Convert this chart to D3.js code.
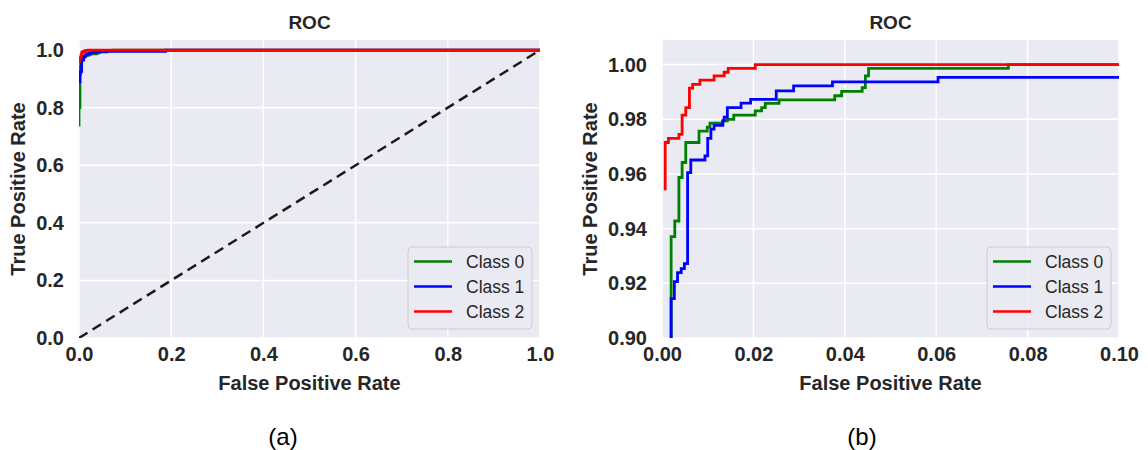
<!DOCTYPE html>
<html><head><meta charset="utf-8">
<script src="https://cdn.jsdelivr.net/npm/d3@7"></script>
<style>
body{margin:0;background:#fff}
svg{display:block}
text{font-family:"Liberation Sans",Arial,sans-serif}
</style></head>
<body><svg id="c" width="1148" height="450"></svg>
<script>
// ---- data ----
const classNames = ["Class 0", "Class 1", "Class 2"];
const classColors = ["green", "blue", "red"];

const fpr0 = [0.0, 0.0, 0.0020, 0.0028, 0.0037, 0.0044, 0.0052, 0.0081, 0.0099, 0.0105, 0.0133, 0.0143, 0.0157, 0.0204, 0.0218, 0.0226, 0.0256, 0.0378, 0.0393, 0.0438, 0.0445, 0.0452, 0.0758, 1.0];
const tpr0 = [0.735, 0.80, 0.9371, 0.9428, 0.9587, 0.9642, 0.9715, 0.9757, 0.9771, 0.9786, 0.9794, 0.9800, 0.9815, 0.9831, 0.9843, 0.9858, 0.9871, 0.9886, 0.9902, 0.9916, 0.9959, 0.9986, 1.0, 1.0];

const fpr1 = [0.0, 0.0020, 0.0027, 0.0034, 0.0042, 0.0049, 0.0056, 0.0063, 0.0094, 0.0100, 0.0107, 0.0114, 0.0133, 0.0136, 0.0143, 0.0173, 0.0194, 0.0250, 0.0288, 0.0373, 0.0604, 0.188, 1.0];
const tpr1 = [0.890, 0.9144, 0.9206, 0.9239, 0.9254, 0.9272, 0.9605, 0.9651, 0.9666, 0.9730, 0.9764, 0.9778, 0.9794, 0.9808, 0.9843, 0.9859, 0.9873, 0.9904, 0.9922, 0.9937, 0.9953, 1.0, 1.0];

const fpr2 = [0.0007, 0.0007, 0.0014, 0.0037, 0.0044, 0.0052, 0.0060, 0.0067, 0.0083, 0.0114, 0.0136, 0.0145, 0.0204, 1.0];
const tpr2 = [0.954, 0.9715, 0.9730, 0.9745, 0.9815, 0.9843, 0.9914, 0.9928, 0.9943, 0.9959, 0.9972, 0.9986, 1.0, 1.0];

const chanceFpr = [0, 1];
const chanceTpr = [0, 1];

const xTicksA = [0, 0.2, 0.4, 0.6, 0.8, 1.0];
const xTickLabelsA = ["0.0", "0.2", "0.4", "0.6", "0.8", "1.0"];
const yTicksA = [0, 0.2, 0.4, 0.6, 0.8, 1.0];
const yTickLabelsA = ["0.0", "0.2", "0.4", "0.6", "0.8", "1.0"];

const xTicksB = [0, 0.02, 0.04, 0.06, 0.08, 0.10];
const xTickLabelsB = ["0.00", "0.02", "0.04", "0.06", "0.08", "0.10"];
const yTicksB = [0.90, 0.92, 0.94, 0.96, 0.98, 1.00];
const yTickLabelsB = ["0.90", "0.92", "0.94", "0.96", "0.98", "1.00"];

const titleText = "ROC";
const xLabelText = "False Positive Rate";
const yLabelText = "True Positive Rate";
const captions = ["(a)", "(b)"];

// ---- drawing ----
const series = [
  {fpr: fpr0, tpr: tpr0}, {fpr: fpr1, tpr: tpr1}, {fpr: fpr2, tpr: tpr2}
];

const svg = d3.select("#c");

const panels = [
  {id: "a", left: 79, right: 540, top: 40, bottom: 338, xDom: [0, 1], yDom: [0, 1.035],
   xT: xTicksA, xL: xTickLabelsA, yT: yTicksA, yL: yTickLabelsA, diag: true, ylabX: 18, cap: captions[0], capX: 283},
  {id: "b", left: 662, right: 1119, top: 40, bottom: 338, xDom: [0, 0.1], yDom: [0.9, 1.009],
   xT: xTicksB, xL: xTickLabelsB, yT: yTicksB, yL: yTickLabelsB, diag: false, ylabX: 590, cap: captions[1], capX: 862}
];

panels.forEach(p => {
  const x = d3.scaleLinear().domain(p.xDom).range([p.left, p.right]);
  const y = d3.scaleLinear().domain(p.yDom).range([p.bottom, p.top]);
  const g = svg.append("g");

  g.append("rect").attr("x", p.left).attr("y", p.top)
    .attr("width", p.right - p.left).attr("height", p.bottom - p.top)
    .attr("fill", "#eaeaf2");

  g.append("clipPath").attr("id", "clip" + p.id).append("rect")
    .attr("x", p.left).attr("y", p.top)
    .attr("width", p.right - p.left).attr("height", p.bottom - p.top);

  // grid
  g.selectAll(".vg").data(p.xT).enter().append("line")
    .attr("x1", d => x(d)).attr("x2", d => x(d)).attr("y1", p.top).attr("y2", p.bottom)
    .attr("stroke", "#fff").attr("stroke-width", 1.5);
  g.selectAll(".hg").data(p.yT).enter().append("line")
    .attr("y1", d => y(d)).attr("y2", d => y(d)).attr("x1", p.left).attr("x2", p.right)
    .attr("stroke", "#fff").attr("stroke-width", 1.5);

  // axes
  const xa = g.append("g").attr("transform", `translate(0,${p.bottom})`)
    .call(d3.axisBottom(x).tickValues(p.xT).tickSize(0).tickPadding(9)
      .tickFormat((d, i) => p.xL[i]));
  const ya = g.append("g").attr("transform", `translate(${p.left},0)`)
    .call(d3.axisLeft(y).tickValues(p.yT).tickSize(0).tickPadding(15)
      .tickFormat((d, i) => p.yL[i]));
  [xa, ya].forEach(a => {
    a.select(".domain").remove();
    a.selectAll("text").attr("font-family", "Liberation Sans, Arial, sans-serif")
      .attr("font-size", 20).attr("font-weight", "bold").attr("fill", "#262626");
  });

  const plot = g.append("g").attr("clip-path", `url(#clip${p.id})`);

  if (p.diag) {
    plot.append("path")
      .attr("d", d3.line().x(d => x(d[0])).y(d => y(d[1]))(chanceFpr.map((v, i) => [v, chanceTpr[i]])))
      .attr("fill", "none").attr("stroke", "#1a1a1a").attr("stroke-width", 2.5)
      .attr("stroke-dasharray", "10,6");
  }

  const line = d3.line().curve(d3.curveStepAfter).x(d => x(d[0])).y(d => y(d[1]));
  series.forEach((s, k) => {
    const pts = s.fpr.map((v, i) => [v, s.tpr[i]]);
    plot.append("path").attr("d", line(pts))
      .attr("fill", "none").attr("stroke", classColors[k]).attr("stroke-width", 2.8)
      .attr("stroke-linejoin", "miter");
  });

  // title & labels
  const cx = (p.left + p.right) / 2;
  g.append("text").attr("x", cx).attr("y", 29).attr("text-anchor", "middle")
    .attr("font-size", 19).attr("font-weight", "bold").attr("fill", "#262626").text(titleText);
  g.append("text").attr("x", cx).attr("y", 390).attr("text-anchor", "middle")
    .attr("font-size", 20).attr("font-weight", "bold").attr("fill", "#262626").text(xLabelText);
  g.append("text").attr("transform", `translate(${p.ylabX},${(p.top + p.bottom) / 2}) rotate(-90)`)
    .attr("text-anchor", "middle").attr("dy", "0.35em")
    .attr("font-size", 20).attr("font-weight", "bold").attr("fill", "#262626").text(yLabelText);
  g.append("text").attr("x", p.capX).attr("y", 445).attr("text-anchor", "middle")
    .attr("font-size", 24).attr("fill", "#000").text(p.cap);

  // legend
  const lw = 124, lh = 82;
  const lx = p.right - 8 - lw, ly = p.bottom - 9 - lh;
  const lg = g.append("g");
  lg.append("rect").attr("x", lx).attr("y", ly).attr("width", lw).attr("height", lh)
    .attr("rx", 4).attr("fill", "#eaeaf2").attr("fill-opacity", 0.85)
    .attr("stroke", "#cccccc").attr("stroke-width", 1);
  classNames.forEach((n, k) => {
    const yy = ly + 14.5 + k * 25;
    lg.append("line").attr("x1", lx + 6).attr("x2", lx + 44).attr("y1", yy).attr("y2", yy)
      .attr("stroke", classColors[k]).attr("stroke-width", 2.6);
    lg.append("text").attr("x", lx + 58).attr("y", yy).attr("dy", "0.35em")
      .attr("font-size", 17.5).attr("fill", "#262626").text(n);
  });
});
</script></body></html>
